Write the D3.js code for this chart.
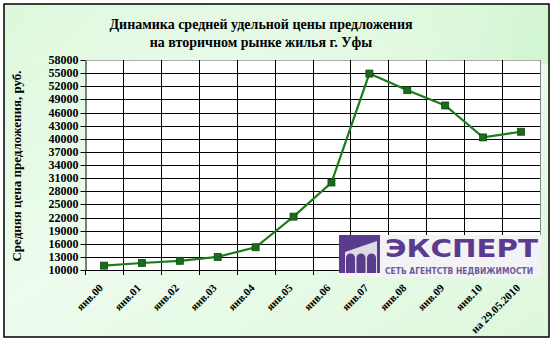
<!DOCTYPE html>
<html><head><meta charset="utf-8">
<script src="https://cdn.jsdelivr.net/npm/d3@7"></script>
<style>body{margin:0;background:#fff}svg{display:block}</style>
</head><body>
<svg id="c" width="555" height="342"></svg>
<script>
const categories = ["янв.00","янв.01","янв.02","янв.03","янв.04","янв.05","янв.06","янв.07","янв.08","янв.09","янв.10","на 29.05.2010"];
const prices = [11000, 11600, 12100, 13000, 15200, 22200, 30000, 54900, 51100, 47600, 40300, 41600];
const yTicks = [10000,13000,16000,19000,22000,25000,28000,31000,34000,37000,40000,43000,46000,49000,52000,55000,58000];
const titleLines = ["Динамика средней удельной цены предложения","на вторичном рынке жилья г. Уфы"];
const yTitle = "Средняя цена предложения, руб.";
const logoMain = "ЭКСПЕРТ";
const logoSub = "СЕТЬ АГЕНТСТВ НЕДВИЖИМОСТИ";

const svg = d3.select("#c");
const serif = "'Liberation Serif','Times New Roman',serif";
const defs = svg.append("defs");
const g = defs.append("linearGradient").attr("id","bg").attr("x1","0").attr("y1","0").attr("x2","1").attr("y2","1");
g.append("stop").attr("offset","0").attr("stop-color","#dcf8dc");
g.append("stop").attr("offset","0.45").attr("stop-color","#eefcee");
g.append("stop").attr("offset","1").attr("stop-color","#ddf7dd");
const g2 = defs.append("linearGradient").attr("id","bg2").attr("x1","0").attr("y1","0").attr("x2","1").attr("y2","0");
g2.append("stop").attr("offset","0").attr("stop-color","#ffffff").attr("stop-opacity",0);
g2.append("stop").attr("offset","1").attr("stop-color","#b8f0b8").attr("stop-opacity",0.5);

svg.append("rect").attr("x",4).attr("y",4).attr("width",545).attr("height",333)
  .attr("fill","url(#bg)");
svg.append("rect").attr("x",4).attr("y",4).attr("width",545).attr("height",60)
  .attr("fill","url(#bg2)");
svg.append("rect").attr("x",4).attr("y",4).attr("width",545).attr("height",333)
  .attr("fill","none").attr("stroke","#000").attr("stroke-width",1.5);

const L=85, R=540, T=60, B=270;
const x = d3.scaleBand().domain(categories).range([L,R]);
const y = d3.scaleLinear().domain([10000,58000]).range([B,T]);

svg.append("rect").attr("x",L).attr("y",T).attr("width",R-L).attr("height",B-T).attr("fill","#fff");

// grid
svg.append("g").selectAll("line").data(yTicks.slice(1)).join("line")
  .attr("x1",L).attr("x2",R).attr("y1",d=>Math.round(y(d))+0.5).attr("y2",d=>Math.round(y(d))+0.5)
  .attr("stroke",(d,i)=>d===58000?"#aaa":"#000").attr("stroke-width",1);
svg.append("g").selectAll("line").data(categories.slice(1).concat(["__end"])).join("line")
  .attr("x1",d=>Math.round(d==="__end"?R:x(d))+0.5).attr("x2",d=>Math.round(d==="__end"?R:x(d))+0.5)
  .attr("y1",T).attr("y2",B).attr("stroke",d=>d==="__end"?"#888":"#000");

// axes
const yAxis = d3.axisLeft(y).tickValues(yTicks).tickSize(5).tickSizeOuter(0).tickFormat(d3.format("d"));
const ya = svg.append("g").attr("transform",`translate(${L+0.5},0)`).call(yAxis);
ya.selectAll("text").attr("font-family",serif).attr("font-weight","bold").attr("font-size","12px").attr("fill","#000").attr("x",-7);
ya.selectAll("line,path").attr("stroke","#000");
ya.selectAll(".tick").attr("transform",d=>`translate(0,${Math.round(y(d))+0.5})`);

const xa = svg.append("g");
xa.append("line").attr("x1",L).attr("x2",R).attr("y1",B+0.5).attr("y2",B+0.5).attr("stroke","#000");
xa.selectAll("line.t").data(categories.concat(["__end"])).join("line").attr("class","t")
  .attr("x1",d=>Math.round(d==="__end"?R:x(d))+0.5).attr("x2",d=>Math.round(d==="__end"?R:x(d))+0.5)
  .attr("y1",B).attr("y2",B+5).attr("stroke","#000");

// line
const cx = d=>x(d)+x.bandwidth()/2;
const data = categories.map((c,i)=>({c,v:prices[i]}));
svg.append("path").datum(data)
  .attr("d",d3.line().x(d=>cx(d.c)).y(d=>y(d.v)))
  .attr("fill","none").attr("stroke","#1c7c1c").attr("stroke-width",2.2);
svg.append("g").selectAll("rect").data(data).join("rect")
  .attr("x",d=>cx(d.c)-3.5).attr("y",d=>y(d.v)-3.5).attr("width",7).attr("height",7)
  .attr("fill","#1a6c1a").attr("stroke","#0f4a0f").attr("stroke-width",0.8);

// logo
const lg = svg.append("g");
lg.append("rect").attr("x",339).attr("y",235).attr("width",202).attr("height",43).attr("fill","#f3f2f5");
lg.append("rect").attr("x",339).attr("y",235).attr("width",41).attr("height",38).attr("fill","#dcdce4");
lg.append("path").attr("d","M339,235 H380 V273 H377 V241 L345,252 V273 H339 Z").attr("fill","#5b3b8e");
[0,1,2].forEach(i=>{
  const ax=346+i*10.5;
  lg.append("path").attr("d",`M${ax},273 V258 A4.5,4.5 0 0 1 ${ax+9},258 V273 Z`).attr("fill","#5b3b8e");
});
lg.append("text").attr("x",385).attr("y",257).attr("font-family","'DejaVu Sans',sans-serif").attr("font-weight","bold")
  .attr("font-size","25px").attr("fill","#5b3b8e").attr("textLength",153).attr("lengthAdjust","spacingAndGlyphs").text(logoMain);
lg.append("text").attr("x",385).attr("y",274).attr("font-family","'DejaVu Sans',sans-serif").attr("font-weight","bold")
  .attr("font-size","8.5px").attr("fill","#6a5a9c").attr("textLength",148).attr("lengthAdjust","spacingAndGlyphs").text(logoSub);

// x labels
svg.append("g").selectAll("text").data(categories).join("text")
  .attr("transform",d=>`translate(${cx(d)-3},${B+16}) rotate(-45)`)
  .attr("text-anchor","end").attr("dy","0.35em")
  .attr("font-family",serif).attr("font-weight","bold").attr("font-size","11px").attr("fill","#000")
  .text(d=>d);

// titles
svg.append("g").selectAll("text").data(titleLines).join("text")
  .attr("x",261).attr("y",(d,i)=>29+i*18).attr("text-anchor","middle")
  .attr("font-family",serif).attr("font-weight","bold").attr("font-size","14px").attr("fill","#000").text(d=>d);
svg.append("text").attr("transform","translate(21,166) rotate(-90)").attr("text-anchor","middle")
  .attr("font-family",serif).attr("font-weight","bold").attr("font-size","13px").attr("fill","#000").text(yTitle);
</script>
</body></html>
